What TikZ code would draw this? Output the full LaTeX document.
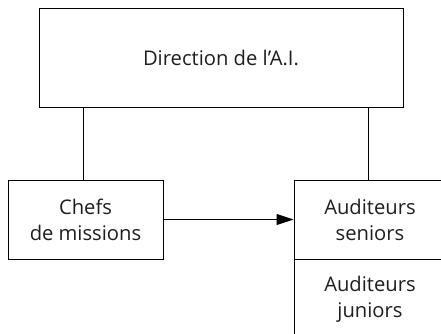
\documentclass[tikz,border=0pt]{standalone}
\usepackage{fontspec}
\setmainfont{Open Sans}
\usetikzlibrary{arrows.meta,positioning}

\begin{document}
\begin{tikzpicture}[x=1pt,y=-1pt,
  every node/.style={font=\fontsize{20.2}{26}\selectfont,text=black!88},
  box/.style={draw,line width=0.9pt,fill=white,align=center,inner sep=0pt},
  link/.style={line width=0.9pt}]
\useasboundingbox (0,0) rectangle (441,333);
\clip (0,0) rectangle (441,333);
\node[box,minimum width=364pt,minimum height=99pt] (direction) at (221,57.5) {Direction de l'A.I.};
\node[box,minimum width=155pt,minimum height=79pt] (chefs) at (85.5,219.5) {Chefs\\de missions};
\node[box,minimum width=152pt,minimum height=79pt] (seniors) at (370,219.5) {Auditeurs\\seniors};
\node[box,minimum width=152pt,minimum height=79pt,below=0pt of seniors] (juniors) {Auditeurs\\juniors};
\draw[link] (direction.south -| 83.5,0) -- (chefs.north -| 83.5,0);
\draw[link] (direction.south -| 368,0) -- (seniors.north -| 368,0);
\draw[link,-{Triangle[length=17pt,width=11pt]}] (chefs.east) -- (seniors.west);
\end{tikzpicture}
\end{document}
